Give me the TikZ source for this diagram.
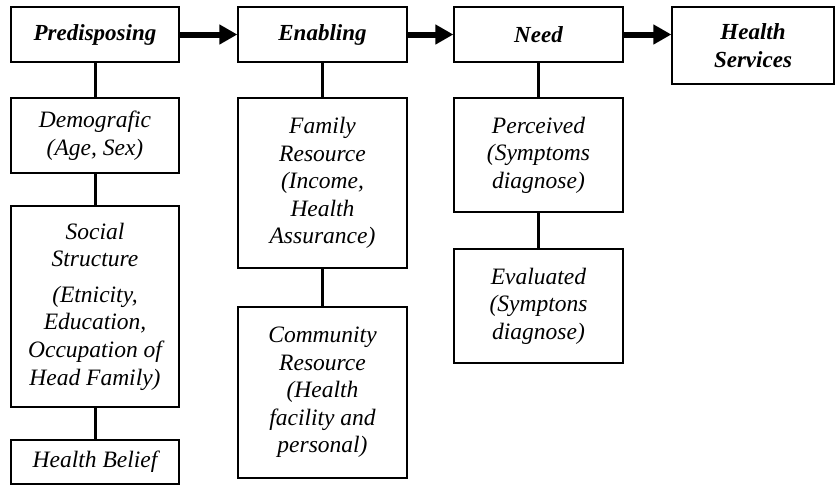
\documentclass[tikz,border=0pt]{standalone}
\usepackage{fontspec}
\setmainfont{Liberation Serif}
\usetikzlibrary{arrows.meta}
\tikzset{
  box/.style={draw, line width=1.3pt, align=center, inner sep=0pt,
    font=\fontsize{23.5}{27.6}\selectfont\itshape},
  head/.style={box, font=\fontsize{23}{27.6}\selectfont\bfseries\itshape},
  link/.style={line width=3pt},
  flow/.style={line width=6pt, -{Triangle[length=18pt, width=19pt]}}
}
\begin{document}
\begin{tikzpicture}[x=1pt, y=-1pt]
  % page frame
  \useasboundingbox (0,0) rectangle (840,496);

  % top row
  \node[head, minimum width=168pt, minimum height=55pt] (pred) at (95,34.5) {Predisposing};
  \node[head, minimum width=169pt, minimum height=55pt] (enab) at (322.5,34.5) {Enabling};
  \node[head, minimum width=169pt, minimum height=55pt] (need) at (538.5,34.5) {Need};
  \node[head, minimum width=162pt, minimum height=77pt] (hserv) at (753,45.5) {Health\\Services};

  % predisposing column
  \node[box, minimum width=168pt, minimum height=75pt] (demo) at (95,135.5) {Demografic\\(Age, Sex)};
  \node[box, minimum width=168pt, minimum height=201pt] (social) at (95,306.5)
    {Social\\Structure\\[8pt](Etnicity,\\Education,\\Occupation of\\Head Family)};
  \node[box, minimum width=168pt, minimum height=44pt] (belief) at (95,462) {Health Belief};

  % enabling column
  \node[box, minimum width=169pt, minimum height=170pt] (family) at (322.5,183)
    {Family\\Resource\\(Income,\\Health\\Assurance)};
  \node[box, minimum width=169pt, minimum height=171pt] (community) at (322.5,392.5)
    {Community\\Resource\\(Health\\facility and\\personal)};

  % need column
  \node[box, minimum width=169pt, minimum height=114pt] (perceived) at (538.5,155)
    {Perceived\\(Symptoms\\diagnose)};
  \node[box, minimum width=169pt, minimum height=114pt] (evaluated) at (538.5,306)
    {Evaluated\\(Symptons\\diagnose)};

  % main flow
  \draw[flow] (pred) -- (enab);
  \draw[flow] (enab) -- (need);
  \draw[flow] (need.east) -- (hserv.west |- need.east);

  % vertical links
  \draw[link] (pred) -- (demo);
  \draw[link] (demo) -- (social);
  \draw[link] (social) -- (belief);
  \draw[link] (enab) -- (family);
  \draw[link] (family) -- (community);
  \draw[link] (need) -- (perceived);
  \draw[link] (perceived) -- (evaluated);
\end{tikzpicture}
\end{document}
